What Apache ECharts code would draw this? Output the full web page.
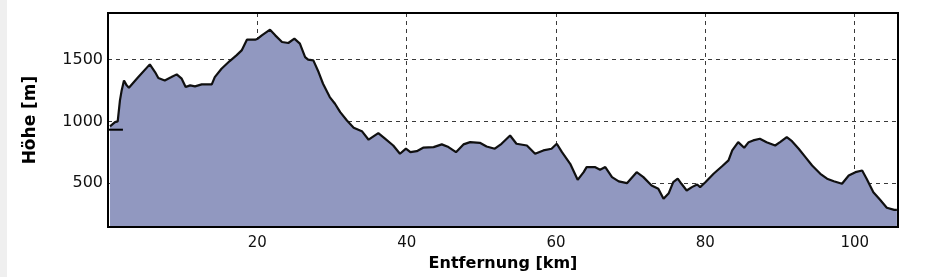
<!DOCTYPE html>
<html>
<head>
<meta charset="utf-8">
<script src="https://cdn.jsdelivr.net/npm/echarts@6/dist/echarts.min.js"></script>
<style>html,body{margin:0;padding:0;background:#fff;}#c{width:925px;height:277px;}</style>
</head>
<body>
<div id="c"></div>
<script>
const distanceKm = [0.27,0.94,1.3,1.6,1.83,2.14,2.5,2.8,4.06,5.6,6.3,6.74,7.6,8.5,9.2,9.87,10.4,11.0,11.65,12.55,13.9,14.3,15.2,16.3,17.2,17.9,18.6,19.7,20.05,20.6,21.7,22.4,23.3,24.15,24.96,25.7,26.4,26.8,27.5,28.2,28.8,29.7,30.4,31.1,32.0,32.9,34.0,34.9,36.2,37.1,38.2,39.1,39.9,40.5,41.35,42.2,43.6,44.7,45.6,46.6,47.6,48.5,49.8,50.7,51.8,52.7,53.85,54.7,56.1,57.2,58.3,59.4,60.1,60.8,61.9,62.9,63.7,64.1,65.2,65.9,66.6,67.5,68.4,69.5,70.8,71.7,72.8,73.7,74.4,75.1,75.7,76.3,76.8,77.5,78.2,78.9,79.3,80.0,81.1,82.2,83.1,83.6,84.4,85.2,85.8,86.4,87.3,88.2,89.35,90.0,90.9,91.6,92.5,93.4,94.3,95.4,96.3,97.2,98.3,99.2,100.1,101.0,101.6,102.5,103.4,104.3,105.3,105.65];
const elevationM = [960,994,1000,1170,1251,1332,1292,1273,1359,1462,1400,1351,1332,1359,1381,1346,1278,1292,1284,1300,1300,1359,1427,1489,1535,1575,1662,1662,1670,1697,1743,1697,1643,1635,1670,1630,1521,1500,1494,1400,1305,1197,1143,1075,1008,949,921,852,905,860,805,738,779,751,759,787,792,814,792,751,814,832,827,797,779,819,886,819,805,738,765,779,819,751,657,527,589,630,630,609,630,549,514,500,589,549,481,454,373,419,508,536,495,441,468,489,468,508,576,635,684,765,832,787,832,846,860,832,805,832,873,840,779,711,643,576,536,516,495,562,589,603,536,427,365,301,284,284];
// Start-height marker (short black bar at left edge)
const startMarkerKm = [-1.74, 2.0];
const startMarkerM = [933, 933];
const yTickValues = [500, 1000, 1500];
const xAxisTitle = 'Entfernung [km]';
const yAxisTitle = 'Höhe [m]';

const chart = echarts.init(document.getElementById('c'), null, {renderer: 'canvas'});
chart.setOption({
  animation: false,
  backgroundColor: '#ffffff',
  graphic: [{type: 'rect', left: 0, top: 0, shape: {width: 7, height: 277}, style: {fill: '#efefef'}, z: -10}],
  grid: {left: 108, right: 27, top: 13, bottom: 50, show: true, borderColor: '#000', borderWidth: 2, backgroundColor: 'transparent', z: 10},
  xAxis: {
    type: 'value', min: 0, max: 105.8, interval: 20,
    name: xAxisTitle, nameLocation: 'middle', nameGap: 27,
    nameTextStyle: {fontFamily: 'DejaVu Sans', fontWeight: 'bold', fontSize: 16, color: '#000'},
    axisLine: {show: false}, axisTick: {show: false},
    axisLabel: {showMinLabel: false, showMaxLabel: false, margin: 9, fontFamily: 'DejaVu Sans', fontSize: 15, color: '#111', formatter: v => String(v)},
    splitLine: {show: true, lineStyle: {type: [4, 4], color: '#3a3a3a', width: 1}}
  },
  yAxis: {
    type: 'value', min: 145, max: 1878,
    name: yAxisTitle, nameLocation: 'middle', nameGap: 69, nameRotate: 90,
    nameTextStyle: {fontFamily: 'DejaVu Sans', fontWeight: 'bold', fontSize: 17, color: '#000'},
    axisLine: {show: false},
    axisTick: {show: false, customValues: yTickValues},
    axisLabel: {customValues: yTickValues, margin: 5, fontFamily: 'DejaVu Sans', fontSize: 16, color: '#111', formatter: v => String(v)},
    splitLine: {show: true, lineStyle: {type: [4, 4], color: '#3a3a3a', width: 1}}
  },
  series: [
    {
      type: 'line', data: distanceKm.map((d, i) => [d, elevationM[i]]),
      showSymbol: false, symbol: 'none',
      lineStyle: {color: '#101010', width: 2.2},
      areaStyle: {color: '#9198c0', opacity: 1, origin: 'start'},
      z: 3
    },
    {
      type: 'line', data: startMarkerKm.map((d, i) => [d, startMarkerM[i]]),
      showSymbol: false, symbol: 'none', clip: false,
      lineStyle: {color: '#000', width: 2}, z: 12
    }
  ]
});
</script>
</body>
</html>
